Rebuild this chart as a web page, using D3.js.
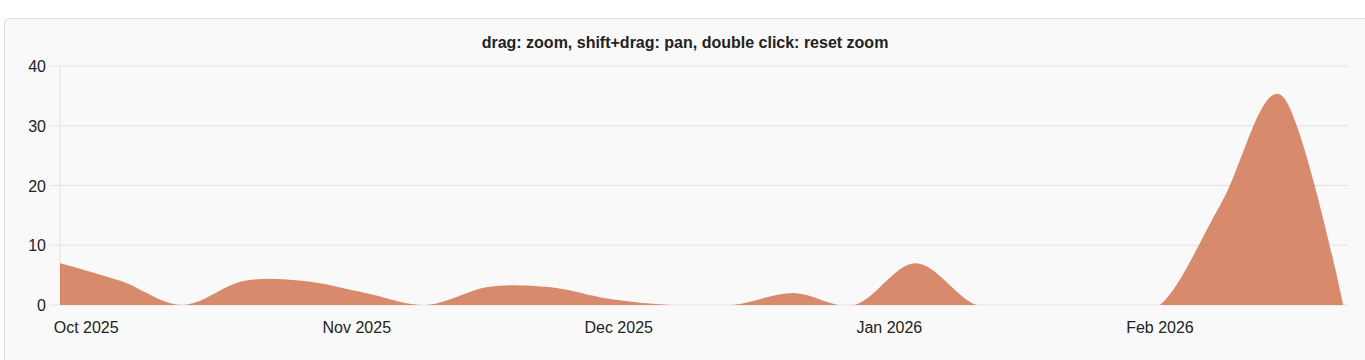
<!DOCTYPE html>
<html>
<head>
<meta charset="utf-8">
<script src="https://cdn.jsdelivr.net/npm/d3@7"></script>
<style>
  body { margin: 0; background: #fff; font-family: "Liberation Sans", Arial, Helvetica, sans-serif; }
  #panel { position: absolute; left: 4px; top: 18px; width: 1375px; height: 360px;
           background: #f9f9f9; border: 1px solid #dedede; border-radius: 5px; }
  svg { position: absolute; left: 0; top: 0; }
</style>
</head>
<body>
<div id="panel"></div>
<svg id="chart" width="1365" height="360"></svg>
<script>
// weekly counts, starting week of 2025-09-28
var startWeek = "2025-09-28";
var counts = [7, 4, 0, 4, 4, 2, 0, 3, 3, 1, 0, 0, 2, 0, 7, 0, 0, 0, 0, 17, 35, 0];
var yTicks = [0, 10, 20, 30, 40];
var title = "drag: zoom, shift+drag: pan, double click: reset zoom";

var parse = d3.utcParse("%Y-%m-%d"),
    t0 = parse(startWeek),
    data = counts.map(function (c, i) { return { date: d3.utcDay.offset(t0, i * 7), value: c }; });

var margin = {left: 60, right: 17, top: 66, bottom: 55},
    width = 1365,
    height = 360;

var x = d3.scaleUtc()
    .domain([t0, d3.utcHour.offset(data[data.length - 1].date, 13)])
    .range([margin.left, width - margin.right]);

var y = d3.scaleLinear()
    .domain([0, 40])
    .range([height - margin.bottom, margin.top]);

var svg = d3.select("#chart");

svg.append("text")
    .attr("x", 685)
    .attr("y", 48)
    .attr("text-anchor", "middle")
    .style("font-size", "16px")
    .style("font-weight", "bold")
    .attr("fill", "#222")
    .text(title);

// grid lines
svg.selectAll(".grid")
    .data(yTicks)
    .enter()
    .append("line")
    .attr("x1", margin.left - 10)
    .attr("x2", width - margin.right)
    .attr("y1", function (d) { return y(d); })
    .attr("y2", function (d) { return y(d); })
    .attr("stroke", "#e3e3e3")
    .attr("stroke-width", 1);

svg.append("line")
    .attr("x1", margin.left)
    .attr("x2", margin.left)
    .attr("y1", y(40))
    .attr("y2", y(0))
    .attr("stroke", "#e3e3e3");

svg.selectAll(".yLabel")
    .data(yTicks)
    .enter()
    .append("text")
    .attr("x", 46)
    .attr("y", function (d) { return y(d) + 6; })
    .attr("text-anchor", "end")
    .style("font-size", "16px")
    .attr("fill", "#222")
    .text(function (d) { return d; });

var fmt = d3.utcFormat("%b %Y");
svg.selectAll(".xLabel")
    .data(x.ticks(d3.utcMonth.every(1)))
    .enter()
    .append("text")
    .attr("x", function (d) { return x(d); })
    .attr("y", 333)
    .attr("text-anchor", "middle")
    .style("font-size", "16px")
    .attr("fill", "#222")
    .text(function (d) { return fmt(d); });

svg.append("clipPath")
    .attr("id", "clip")
    .append("rect")
    .attr("x", margin.left)
    .attr("y", margin.top)
    .attr("width", width - margin.right - margin.left)
    .attr("height", y(0) - margin.top);

var area = d3.area()
    .curve(d3.curveCardinal.tension(0))
    .x(function (d) { return x(d.date); })
    .y0(y(0))
    .y1(function (d) { return y(d.value); });

svg.append("path")
    .datum(data)
    .attr("clip-path", "url(#clip)")
    .attr("d", area)
    .attr("fill", "#cc663c")
    .attr("fill-opacity", 0.75);
</script>
</body>
</html>
